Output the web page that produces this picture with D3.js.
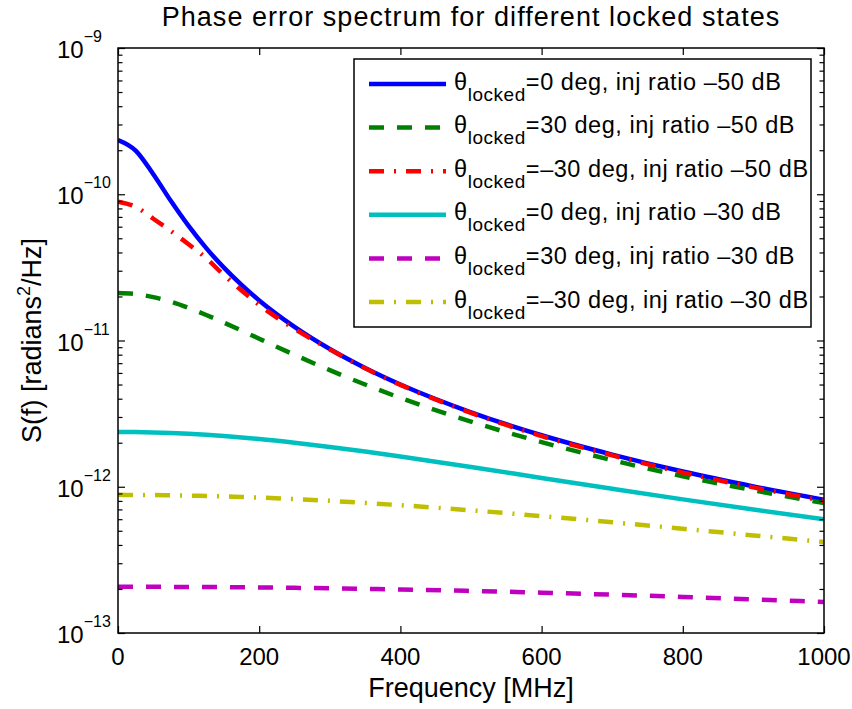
<!DOCTYPE html>
<head>
  <meta charset="utf-8">
  <script src="https://cdnjs.cloudflare.com/ajax/libs/d3/7.8.5/d3.min.js"></script>
  <style>
    body { margin:0; background:#fff; }
    svg { display:block; font-family: "Liberation Sans", Arial, Helvetica, sans-serif; }
  </style>
</head>

<body>
  <script>
    // frequency samples [MHz]
    var freq = [0, 25, 50, 75, 100, 125, 150, 175, 200, 250, 300, 350, 400, 500, 600, 700, 800, 900, 1000];

    // S(f), one array per curve
    var s0_50  = [2.35e-10, 1.99e-10, 1.37e-10, 8.98e-11, 6.07e-11, 4.28e-11, 3.15e-11, 2.40e-11, 1.88e-11, 1.24e-11, 8.75e-12, 6.49e-12, 5.00e-12, 3.23e-12, 2.25e-12, 1.66e-12, 1.27e-12, 1.006e-12, 8.15e-13];
    var s30_50 = [2.11e-11, 2.076e-11, 1.98e-11, 1.84e-11, 1.67e-11, 1.495e-11, 1.325e-11, 1.169e-11, 1.028e-11, 7.98e-12, 6.27e-12, 5.0e-12, 4.05e-12, 2.79e-12, 2.02e-12, 1.52e-12, 1.18e-12, 9.46e-13, 7.73e-13];
    var sm30_50 = [8.9e-11, 8.2e-11, 6.8e-11, 5.6e-11, 4.55e-11, 3.65e-11, 2.8e-11, 2.2e-11, 1.75e-11, 1.2e-11, 8.7e-12, 6.45e-12, 4.97e-12, 3.2e-12, 2.22e-12, 1.64e-12, 1.25e-12, 9.9e-13, 8.0e-13];
    var s0_30  = [2.37e-12, 2.366e-12, 2.353e-12, 2.331e-12, 2.302e-12, 2.266e-12, 2.222e-12, 2.173e-12, 2.12e-12, 2.0e-12, 1.872e-12, 1.74e-12, 1.61e-12, 1.364e-12, 1.149e-12, 9.69e-13, 8.2e-13, 6.99e-13, 6.0e-13];
    var s30_30 = [2.07e-13, 2.07e-13, 2.069e-13, 2.067e-13, 2.064e-13, 2.061e-13, 2.058e-13, 2.053e-13, 2.048e-13, 2.036e-13, 2.021e-13, 2.004e-13, 1.984e-13, 1.939e-13, 1.887e-13, 1.828e-13, 1.765e-13, 1.698e-13, 1.63e-13];
    var sm30_30 = [8.8e-13, 8.79e-13, 8.78e-13, 8.75e-13, 8.70e-13, 8.65e-13, 8.59e-13, 8.51e-13, 8.43e-13, 8.23e-13, 8.01e-13, 7.75e-13, 7.48e-13, 6.9e-13, 6.3e-13, 5.72e-13, 5.16e-13, 4.65e-13, 4.19e-13];

    var legendText = ["=0 deg, inj ratio \u201350 dB", "=30 deg, inj ratio \u201350 dB", "=\u201330 deg, inj ratio \u201350 dB",
                      "=0 deg, inj ratio \u201330 dB", "=30 deg, inj ratio \u201330 dB", "=\u201330 deg, inj ratio \u201330 dB"];
    var xTicks = [0, 200, 400, 600, 800, 1000];
    var yExp = [-9, -10, -11, -12, -13];

    var series = [
      {vals: s0_50,   color: "#0000ff", dash: null},
      {vals: s30_50,  color: "#008000", dash: "15,13"},
      {vals: sm30_50, color: "#ff0000", dash: "15,10,2,10"},
      {vals: s0_30,   color: "#00bfbf", dash: null},
      {vals: s30_30,  color: "#bf00bf", dash: "15,13"},
      {vals: sm30_30, color: "#bfbf00", dash: "15,10,2,10"}
    ];
    series.forEach(function(s, i){ s.label = legendText[i]; });

    var W = 852, H = 709;
    var margin = {top: 48, right: 28, bottom: 76, left: 118};
    var width = W - margin.left - margin.right;
    var height = H - margin.top - margin.bottom;

    var svg = d3.select("body").append("svg")
      .attr("width", W)
      .attr("height", H);

    var x = d3.scaleLinear().domain([0, 1000]).range([margin.left, margin.left + width]);
    var y = d3.scaleLog().domain([1e-13, 1e-9]).range([margin.top + height, margin.top]);

    // curves, in plotting order
    var line = d3.line()
      .x(function(d){ return x(d[0]); })
      .y(function(d){ return y(d[1]); })
      .curve(d3.curveMonotoneX);

    svg.append("clipPath").attr("id", "clip")
      .append("rect").attr("x", margin.left).attr("y", margin.top).attr("width", width).attr("height", height);

    var plot = svg.append("g").attr("clip-path", "url(#clip)");
    series.forEach(function(s){
      plot.append("path")
        .datum(freq.map(function(f, i){ return [f, s.vals[i]]; }))
        .attr("d", line)
        .attr("fill", "none")
        .attr("stroke", s.color)
        .attr("stroke-width", 4.5)
        .attr("stroke-dasharray", s.dash);
    });

    // axes: ticks on all four sides (box on)
    var minor = [];
    for (var e = -13; e < -9; e++) for (var m = 2; m < 10; m++) minor.push(m * Math.pow(10, e));
    var major = yExp.map(function(e){ return Math.pow(10, e); });

    function styleAxis(g){
      g.select(".domain").remove();
      g.selectAll(".tick line").attr("stroke", "#000").attr("stroke-width", 1.2);
    }
    svg.append("g").attr("transform", "translate(0," + (margin.top + height) + ")")
      .call(d3.axisBottom(x).tickValues(xTicks).tickSizeInner(-7).tickSizeOuter(0).tickFormat("")).call(styleAxis);
    svg.append("g").attr("transform", "translate(0," + margin.top + ")")
      .call(d3.axisTop(x).tickValues(xTicks).tickSizeInner(-7).tickSizeOuter(0).tickFormat("")).call(styleAxis);
    svg.append("g").attr("transform", "translate(" + margin.left + ",0)")
      .call(d3.axisLeft(y).tickValues(major).tickSizeInner(-7).tickSizeOuter(0).tickFormat("")).call(styleAxis);
    svg.append("g").attr("transform", "translate(" + margin.left + ",0)")
      .call(d3.axisLeft(y).tickValues(minor).tickSizeInner(-4.5).tickSizeOuter(0).tickFormat("")).call(styleAxis);
    svg.append("g").attr("transform", "translate(" + (margin.left + width) + ",0)")
      .call(d3.axisRight(y).tickValues(major).tickSizeInner(-7).tickSizeOuter(0).tickFormat("")).call(styleAxis);
    svg.append("g").attr("transform", "translate(" + (margin.left + width) + ",0)")
      .call(d3.axisRight(y).tickValues(minor).tickSizeInner(-4.5).tickSizeOuter(0).tickFormat("")).call(styleAxis);

    svg.append("rect")
      .attr("x", margin.left).attr("y", margin.top).attr("width", width).attr("height", height)
      .attr("fill", "none").attr("stroke", "#000").attr("stroke-width", 1.5);

    // tick labels
    svg.append("g").selectAll("text").data(xTicks).enter().append("text")
      .attr("x", function(d){ return x(d); })
      .attr("y", margin.top + height + 32)
      .attr("text-anchor", "middle")
      .attr("font-size", 24)
      .text(function(d){ return d; });

    var yl = svg.append("g").selectAll("text").data(yExp).enter().append("text")
      .attr("x", 57)
      .attr("y", function(d){ return y(Math.pow(10, d)) + 10; })
      .attr("font-size", 24);
    yl.append("tspan").text("10");
    yl.append("tspan").attr("dy", -16).attr("font-size", 16).text(function(d){ return "\u2212" + (-d); });

    // axis titles
    svg.append("text")
      .attr("x", margin.left + width / 2).attr("y", 26)
      .attr("text-anchor", "middle").attr("font-size", 27)
      .attr("letter-spacing", 1.05)
      .text("Phase error spectrum for different locked states");
    svg.append("text")
      .attr("x", margin.left + width / 2).attr("y", 697)
      .attr("text-anchor", "middle").attr("font-size", 27)
      .text("Frequency [MHz]");
    var ylab = svg.append("text")
      .attr("transform", "translate(41," + (margin.top + height / 2) + ") rotate(-90)")
      .attr("text-anchor", "middle").attr("font-size", 27);
    ylab.append("tspan").text("S(f) [radians");
    ylab.append("tspan").attr("dy", -11).attr("font-size", 18).text("2");
    ylab.append("tspan").attr("dy", 11).text("/Hz]");

    // legend
    var lg = svg.append("g");
    lg.append("rect")
      .attr("x", 354).attr("y", 59).attr("width", 457).attr("height", 268)
      .attr("fill", "#fff").attr("stroke", "#000").attr("stroke-width", 1.5);
    var rowH = 43.6;
    series.forEach(function(s, i){
      var ry = 84 + i * rowH;
      lg.append("line")
        .attr("x1", 369).attr("x2", 446).attr("y1", ry).attr("y2", ry)
        .attr("stroke", s.color).attr("stroke-width", 4.5)
        .attr("stroke-dasharray", s.dash);
      var t = lg.append("text").attr("x", 454).attr("y", ry + 5.5)
        .attr("font-size", 23.5).attr("letter-spacing", 0.55);
      t.append("tspan").text("\u03b8");
      t.append("tspan").attr("dy", 11).attr("font-size", 19).text("locked");
      t.append("tspan").attr("dy", -11).text(s.label);
    });
  </script>
</body>
